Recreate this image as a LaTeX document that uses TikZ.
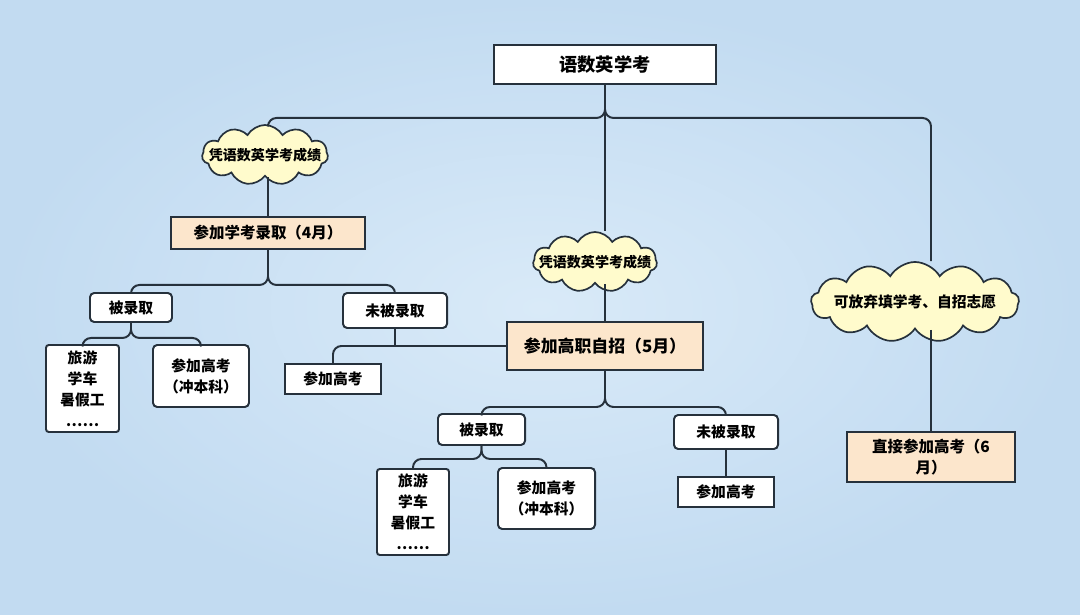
\documentclass[tikz,border=0pt]{standalone}
\usepackage{fontspec}
\setmainfont{Noto Sans CJK SC}
\usetikzlibrary{shapes.symbols, positioning}
\definecolor{bgblue}{HTML}{C2DBF1}
\definecolor{bglight}{HTML}{D9EAF8}
\definecolor{inkdark}{HTML}{26313C}
\definecolor{peach}{HTML}{FCE6CC}
\definecolor{cloudyellow}{HTML}{FFFBCC}

\begin{document}
\begin{tikzpicture}[x=0.025cm, y=-0.025cm,
  plainbox/.style={rectangle, draw=inkdark, line width=1.4pt, fill=white, align=center, inner sep=0pt, font=\bfseries\fontsize{10.5}{15}\selectfont},
  roundbox/.style={plainbox, rounded corners=3pt},
  keybox/.style={plainbox, fill=peach},
  thought/.style={cloud, cloud puffs=11, cloud puff arc=120, cloud ignores aspect, draw=inkdark, line width=1.2pt, fill=cloudyellow, inner sep=0pt},
  thoughttext/.style={label={[font=\bfseries\fontsize{10}{12}\selectfont, inner sep=0pt]center:#1}},
  conn/.style={draw=inkdark, line width=1.4pt, rounded corners=6pt}]

% background
\shade[inner color=bglight, outer color=bgblue] (0,0) rectangle (1080,615);

\node[plainbox, minimum width=5.55cm, minimum height=0.975cm, font=\bfseries\fontsize{13}{15}\selectfont] (top) at (605,64.5) {语数英学考};

% left branch
\node[thought, minimum width=3.15cm, minimum height=1.5cm, thoughttext=凭语数英学考成绩] (scoreL) at (265,155) {};
\node[keybox, minimum width=4.85cm, minimum height=0.8cm, font=\bfseries\fontsize{11}{13}\selectfont] (april) at (268,233) {参加学考录取（4月）};
\node[roundbox, minimum width=2.05cm, minimum height=0.725cm] (yesL) at (131,307.5) {被录取};
\node[roundbox, minimum width=2.6cm, minimum height=0.875cm] (noL) at (395,310.5) {未被录取};
\node[roundbox, minimum width=1.825cm, minimum height=2.175cm, rounded corners=2pt] (travelL) at (82.5,388.5) {旅游\\学车\\暑假工\\……};
\node[roundbox, minimum width=2.4cm, minimum height=1.55cm] (rushL) at (201,376) {参加高考\\（冲本科）};
\node[plainbox, minimum width=2.4cm, minimum height=0.75cm] (examL) at (333,379) {参加高考};

% middle branch
\node[thought, minimum width=3.1cm, minimum height=1.5cm, thoughttext=凭语数英学考成绩] (scoreM) at (595,262) {};
\node[keybox, minimum width=4.9cm, minimum height=1.2cm, font=\bfseries\fontsize{12}{14}\selectfont] (may) at (605,346) {参加高职自招（5月）};
\node[roundbox, minimum width=2.175cm, minimum height=0.775cm] (yesM) at (481.5,429.5) {被录取};
\node[roundbox, minimum width=2.6cm, minimum height=0.85cm] (noM) at (726,432) {未被录取};
\node[roundbox, minimum width=1.8cm, minimum height=2.15cm, rounded corners=2pt] (travelM) at (413,512) {旅游\\学车\\暑假工\\……};
\node[roundbox, minimum width=2.425cm, minimum height=1.525cm] (rushM) at (546.5,498.5) {参加高考\\（冲本科）};
\node[plainbox, minimum width=2.4cm, minimum height=0.75cm] (examR) at (726,492) {参加高考};

% right branch
\node[thought, minimum width=5.2cm, minimum height=2cm, cloud puffs=13, label={[font=\bfseries\fontsize{10.5}{12}\selectfont, inner sep=0pt]center:可放弃填学考、自招志愿}] (giveup) at (915,302) {};
\node[keybox, minimum width=4.2cm, minimum height=1.25cm, font=\bfseries\fontsize{11}{15}\selectfont] (june) at (931,457) {直接参加高考（6\\月）};

% connectors
\draw[conn] (top.south) -- ++(0,33) -| (scoreL.north -| april.north);
\draw[conn] (top.south) -- ++(0,33) -| (june.north |- giveup.north);
\draw[conn] (top.south) -- (scoreM.north -| top.south);

\draw[conn] (scoreL.south -| april.north) -- (april.north);
\draw[conn] (april.south) -- ++(0,35) -| (yesL.north);
\draw[conn] (april.south) -- ++(0,35) -| (noL.north);
\draw[conn] (yesL.south) -- ++(0,15) -| (travelL.north);
\draw[conn] (yesL.south) -- ++(0,15) -| (rushL.north);
\draw[conn] (noL.south) -- (noL.south |- may.west);
\draw[conn] (may.west) -| (examL.north);

\draw[conn] (scoreM.south -| may.north) -- (may.north);
\draw[conn] (may.south) -- ++(0,36) -| (yesM.north);
\draw[conn] (may.south) -- ++(0,36) -| (noM.north);
\draw[conn] (yesM.south) -- ++(0,13) -| (travelM.north);
\draw[conn] (yesM.south) -- ++(0,13) -| (rushM.north);
\draw[conn] (noM.south) -- (examR.north);

\draw[conn] (giveup.south -| june.north) -- (june.north);
\end{tikzpicture}
\end{document}
